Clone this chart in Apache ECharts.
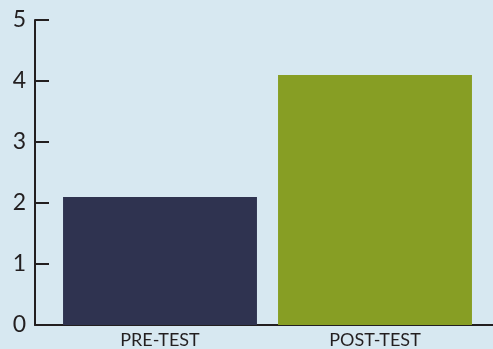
<!DOCTYPE html>
<html>
<head>
<meta charset="utf-8">
<script src="https://cdn.jsdelivr.net/npm/echarts@6/dist/echarts.min.js"></script>
<style>
  html, body { margin: 0; padding: 0; background: #d7e8f1; }
  #chart { width: 493px; height: 349px; }
</style>
</head>
<body>
<div id="chart"></div>
<script>
// Mean scores before and after the session
const categories = ['PRE-TEST', 'POST-TEST'];
const scores = [2.1, 4.1];
const barColors = ['#2f3350', '#879e24'];
const yTicks = { min: 0, max: 5, interval: 1 };

const chart = echarts.init(document.getElementById('chart'), null, { renderer: 'canvas' });
const ink = '#231f20';

chart.setOption({
  backgroundColor: '#d7e8f1',
  animation: false,
  grid: [
    // frame grid: carries the y axis and the full-width baseline
    { left: 35, right: 0, top: 20, bottom: 24 },
    // plot grid: holds the two bars
    { left: 52.5, right: 10.5, top: 20, bottom: 24 }
  ],
  xAxis: [
    {
      gridIndex: 0, type: 'value', min: 0, max: 1,
      axisLine: { show: true, lineStyle: { color: ink, width: 2 } },
      axisTick: { show: false }, axisLabel: { show: false }, splitLine: { show: false }
    },
    {
      gridIndex: 1, type: 'category', data: categories,
      axisLine: { show: false }, axisTick: { show: false }, splitLine: { show: false },
      axisLabel: { color: ink, fontFamily: 'Lato', fontSize: 18, margin: 6 }
    }
  ],
  yAxis: [
    {
      gridIndex: 0, type: 'value', min: yTicks.min, max: yTicks.max, interval: yTicks.interval,
      axisLine: { show: true, lineStyle: { color: ink, width: 2 } },
      axisTick: { show: true, inside: true, length: 14, lineStyle: { color: ink, width: 2 } },
      axisLabel: { color: ink, fontFamily: 'Lato', fontSize: 23, margin: 9 },
      splitLine: { show: false }
    },
    {
      gridIndex: 1, type: 'value', min: yTicks.min, max: yTicks.max, interval: yTicks.interval,
      show: false
    }
  ],
  series: [
    {
      type: 'bar',
      xAxisIndex: 1, yAxisIndex: 1,
      barCategoryGap: '9.8%',
      data: scores.map((v, i) => ({ value: v, itemStyle: { color: barColors[i] } }))
    }
  ]
});
</script>
</body>
</html>
